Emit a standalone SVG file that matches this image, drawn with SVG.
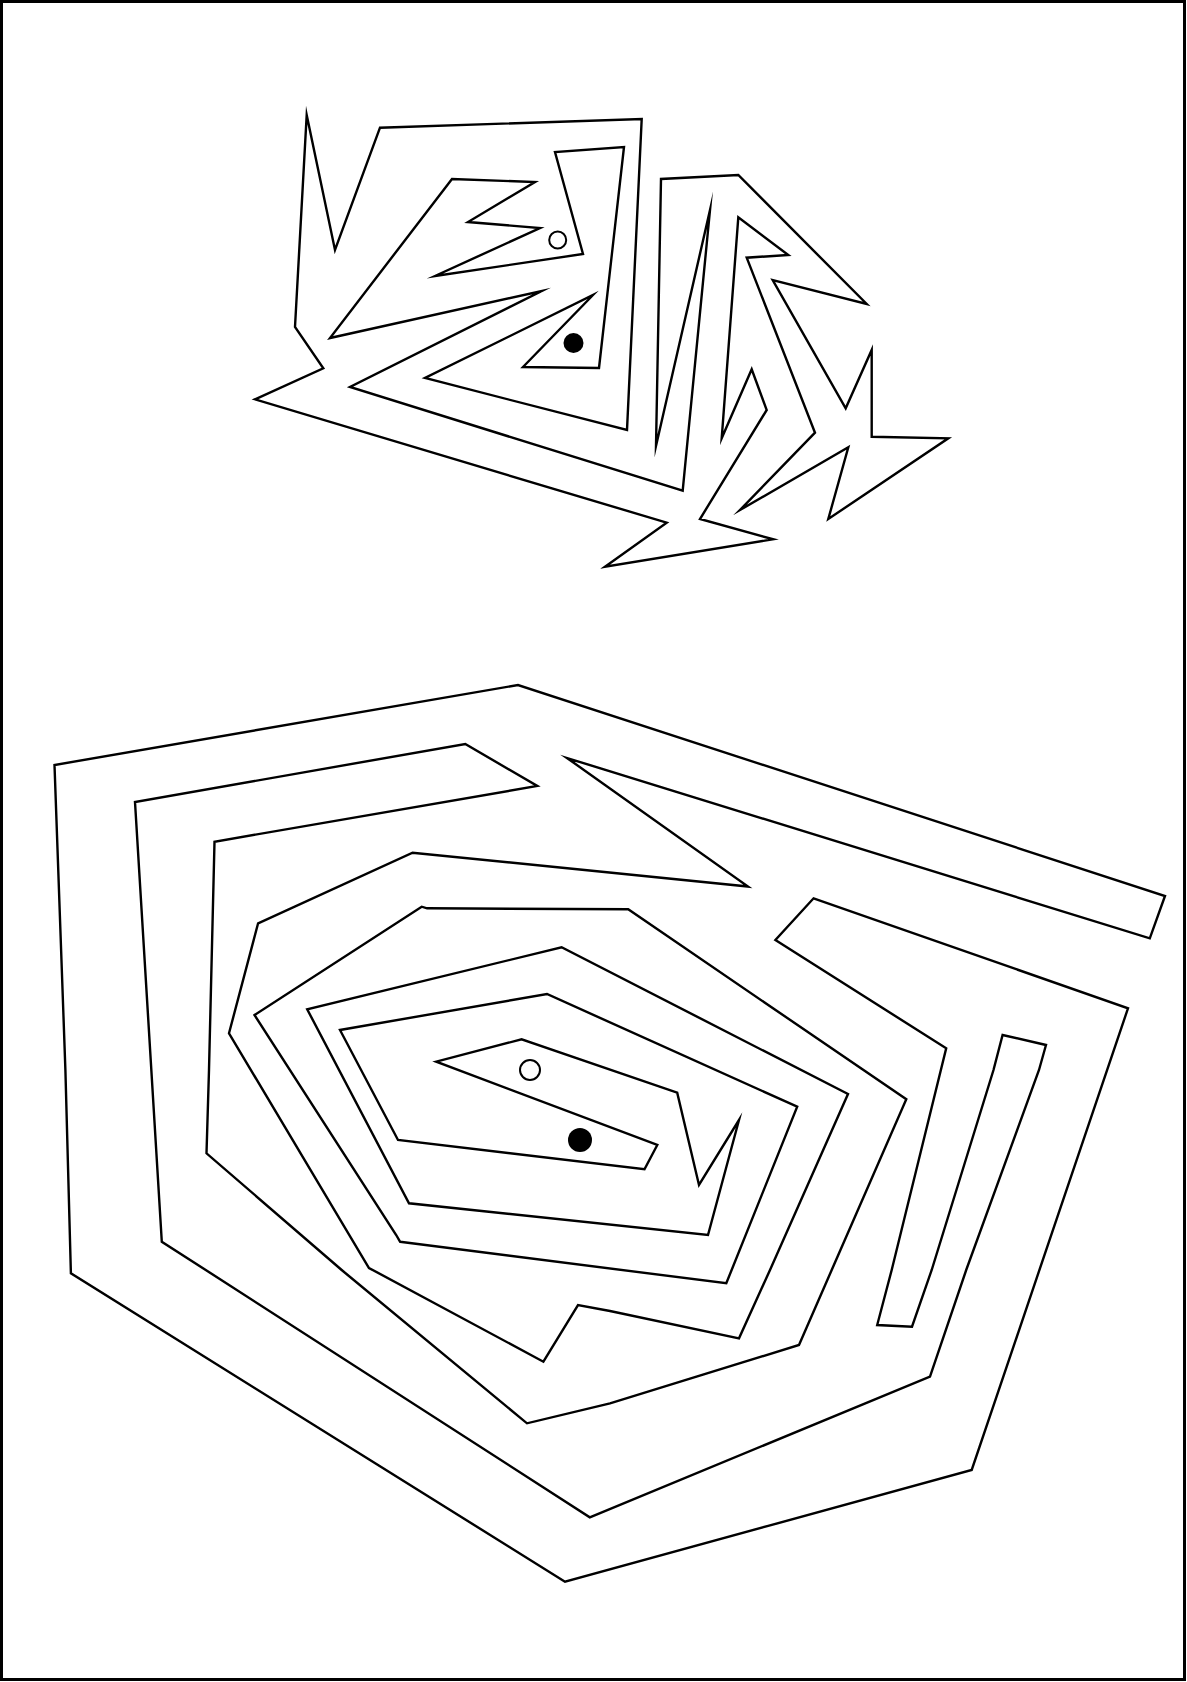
<svg xmlns="http://www.w3.org/2000/svg" width="1187" height="1682" viewBox="0 0 1187 1682">
<style>
.w{fill:none;stroke:#000;stroke-width:2.4;stroke-linejoin:miter;stroke-miterlimit:20}
.o{fill:#fff;stroke:#000;stroke-width:2}
.f{fill:#000}
</style>
<rect x="0" y="0" width="1187" height="1682" fill="#fff"/>
<rect x="1.5" y="1.5" width="1183" height="1678" fill="none" stroke="#000" stroke-width="3"/>
<g id="maze-top">
<polygon class="w" points="306.7,115 335,250 380,127.7 641.7,119 627,430 425,378 593,295 523,367 599,368 624,147 555,152 583,254 435,276 540,228 468,222 535,182 452,179 330,338 541.7,291 350,387 682.7,490.7 710,210 656,446 661,179 738.3,175 866.7,304 772.7,280 845.7,408.3 871.7,350 871.7,436.7 948.3,438.3 828.3,519 848.3,447.3 740,510 815,432.7 746.7,257.7 788.3,255 738.3,217.3 721.7,438.3 751.7,369.3 766.7,410 700,519 773.3,539.3 605,566.7 666.7,522.7 255,399.3 323.3,368.3 295,327"/>
<circle class="o" cx="557.7" cy="240" r="8.5"/>
<circle class="f" cx="573.5" cy="343" r="10"/>
</g>
<g id="maze-bottom">
<polygon class="w" points="400,1241.7 726.3,1283.3 797.2,1106.7 547,994 340,1030 398,1140 644.5,1169.3 657.3,1145 436.2,1061.7 521.6,1039.3 677.2,1092.7 699,1185 739,1120 708,1235 409,1203.3 307.2,1009.3 561.6,947.3 848,1094 770,1270 739,1338.3 610,1311 578,1305 543.4,1361.7 369,1268 229,1033.3 258.1,923.3 412.6,852.7 748,886.5 567,758 1149.8,938.3 1165,896 518,685 54.5,765 65.4,1070 70.9,1273.3 565,1581.7 971.7,1470 1128,1008.3 813.6,898.3 775.4,940 946.2,1048.3 891.7,1270 877.2,1325 912,1326.7 931.7,1270 993.5,1070 1002.6,1035 1046,1045 1039,1070 966.2,1270 930,1376.7 589.8,1517.3 161.8,1241.7 135,802 465.3,744 537.3,786 214.5,841.7 209,1070 206.5,1153.3 341.7,1270 527,1423.3 610,1403.3 799,1345 831.7,1270 906.3,1099.3 628.2,909.3 427.1,908.3 421.7,906.7 254.5,1015 396.2,1235"/>
<circle class="o" cx="530" cy="1070" r="10"/>
<circle class="f" cx="580" cy="1140" r="12"/>
</g>
</svg>
